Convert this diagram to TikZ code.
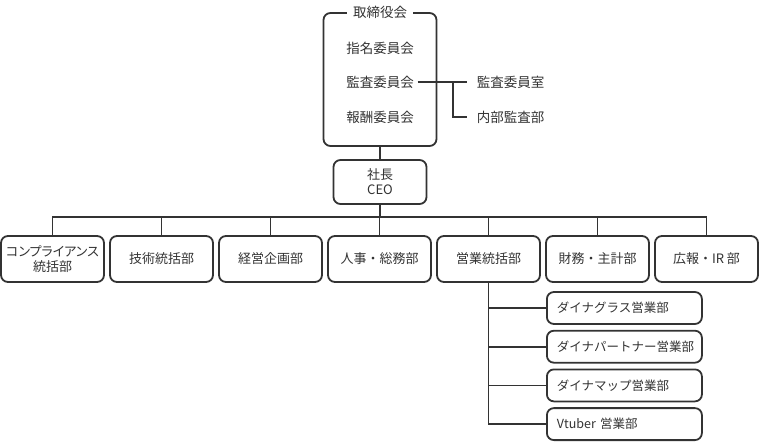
\documentclass[tikz,border=0pt]{standalone}
\usepackage{fontspec}
\setmainfont{Noto Sans CJK JP}
\newfontfamily\paltfont[RawFeature=+palt]{Noto Sans CJK JP}
\usetikzlibrary{positioning}
\definecolor{linegray}{HTML}{333333}

\begin{document}
\begin{tikzpicture}[x=1pt,y=-1pt, line width=1.8pt, draw=linegray, text=linegray,
box/.style={draw=linegray, rounded corners=7pt, fill=white},
dept/.style={box, minimum width=103pt, minimum height=46pt, inner sep=1pt, align=center,
  font=\fontsize{13}{15}\selectfont},
sub/.style={box, anchor=west, minimum height=32pt, text width=135pt, inner xsep=10pt,
  align=left, font=\fontsize{12.5}{15}\selectfont},
label/.style={font=\fontsize{13.5}{16}\selectfont}]
\useasboundingbox (0,0) rectangle (760,443);

% board and committees
\node[box, minimum width=113pt, minimum height=133pt] (board) at (380,79.5) {};
\node[label, fill=white, inner xsep=6pt, inner ysep=1pt] (boardtitle) at (board.north) {取締役会};
\node[label, inner sep=3pt] (nomi) at (380,48) {指名委員会};
\node[label, inner sep=3pt] (audit) at (380,82) {監査委員会};
\node[label, inner sep=3pt] (remu) at (380,117) {報酬委員会};
\node[label, anchor=west, inner xsep=9pt] (office) at (467,82) {監査委員室};
\node[label, anchor=west, inner xsep=9pt] (internal) at (467,117) {内部監査部};
\coordinate (split) at (453,82);
\draw (audit.east) -- (office.west);
\draw (split) |- (internal.west);

% CEO
\node[box, label, minimum width=93pt, minimum height=44pt, inner sep=1pt, align=center,
  font=\fontsize{13}{15}\selectfont] (ceo) at (380,182) {社長\\CEO};
\draw (board.south) -- (ceo.north);

% departments
\foreach \i/\txt in {1/{\paltfont コンプライアンス\\統括部}, 2/技術統括部, 3/経営企画部, 4/人事・総務部,
  5/営業統括部, 6/財務・主計部, 7/広報・IR 部}
  \node[dept] (d\i) at ({52.5+109*(\i-1)},259) {\txt};
\coordinate (bus) at (380,217);
\draw (ceo.south) -- (bus);
\draw (d1.north) |- (bus) -| (d7.north);
\foreach \i in {2,...,6}
  \draw (d\i.north) -- (d\i.north |- bus);

% sales
\foreach \i/\txt in {1/ダイナグラス営業部, 2/ダイナパートナー営業部, 3/ダイナマップ営業部, 4/Vtuber 営業部}
  \node[sub] (s\i) at ({546},{308+38.7*(\i-1)}) {\txt};
\draw (d5.south) |- (s4.west);
\foreach \i in {1,2,3}
  \draw (s\i.west) -- (s\i.west -| d5.south);

\end{tikzpicture}
\end{document}
